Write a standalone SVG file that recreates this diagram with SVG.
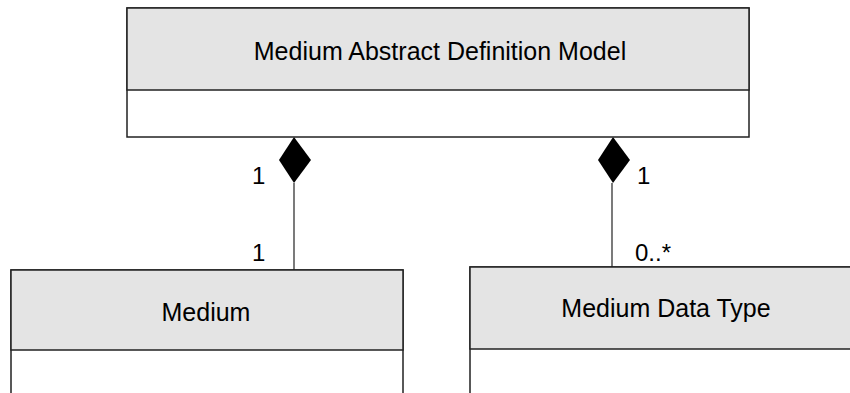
<svg xmlns="http://www.w3.org/2000/svg" width="850" height="393" viewBox="0 0 850 393">
<style>
.hdr{fill:#e4e4e4;stroke:#222;stroke-width:1.5}
.body{fill:#fff;stroke:#222;stroke-width:1.5}
.t{font-family:"Liberation Sans",Arial,sans-serif;font-size:25px;fill:#000;text-anchor:middle}
.m{font-family:"Liberation Sans",Arial,sans-serif;font-size:24px;fill:#000}
.ln{stroke:#222;stroke-width:1.2;fill:none}
.dia{fill:#000;stroke:none}
</style>
<rect width="850" height="393" fill="#fff"/>
<g id="connectors">
<line class="ln" x1="294" y1="183" x2="294" y2="270"/>
<polygon class="dia" points="294,137 311,160 294,183 279,160"/>
<line class="ln" x1="612" y1="183" x2="612" y2="267"/>
<polygon class="dia" points="613,137 630,160 613,183 598,160"/>
<text class="m" x="252" y="184">1</text>
<text class="m" x="252" y="261">1</text>
<text class="m" x="637" y="184">1</text>
<text class="m" x="635" y="261">0..*</text>
</g>
<g id="node-model">
<rect class="body" x="127" y="8" width="622" height="129"/>
<rect class="hdr" x="127" y="8" width="622" height="82"/>
<text class="t" x="440" y="60">Medium Abstract Definition Model</text>
</g>
<g id="node-medium">
<rect class="body" x="11" y="270" width="392" height="140"/>
<rect class="hdr" x="11" y="270" width="392" height="80"/>
<text class="t" x="206" y="321">Medium</text>
</g>
<g id="node-datatype">
<rect class="body" x="470" y="267" width="392" height="140"/>
<rect class="hdr" x="470" y="267" width="392" height="82"/>
<text class="t" x="666" y="317">Medium Data Type</text>
</g>
</svg>
